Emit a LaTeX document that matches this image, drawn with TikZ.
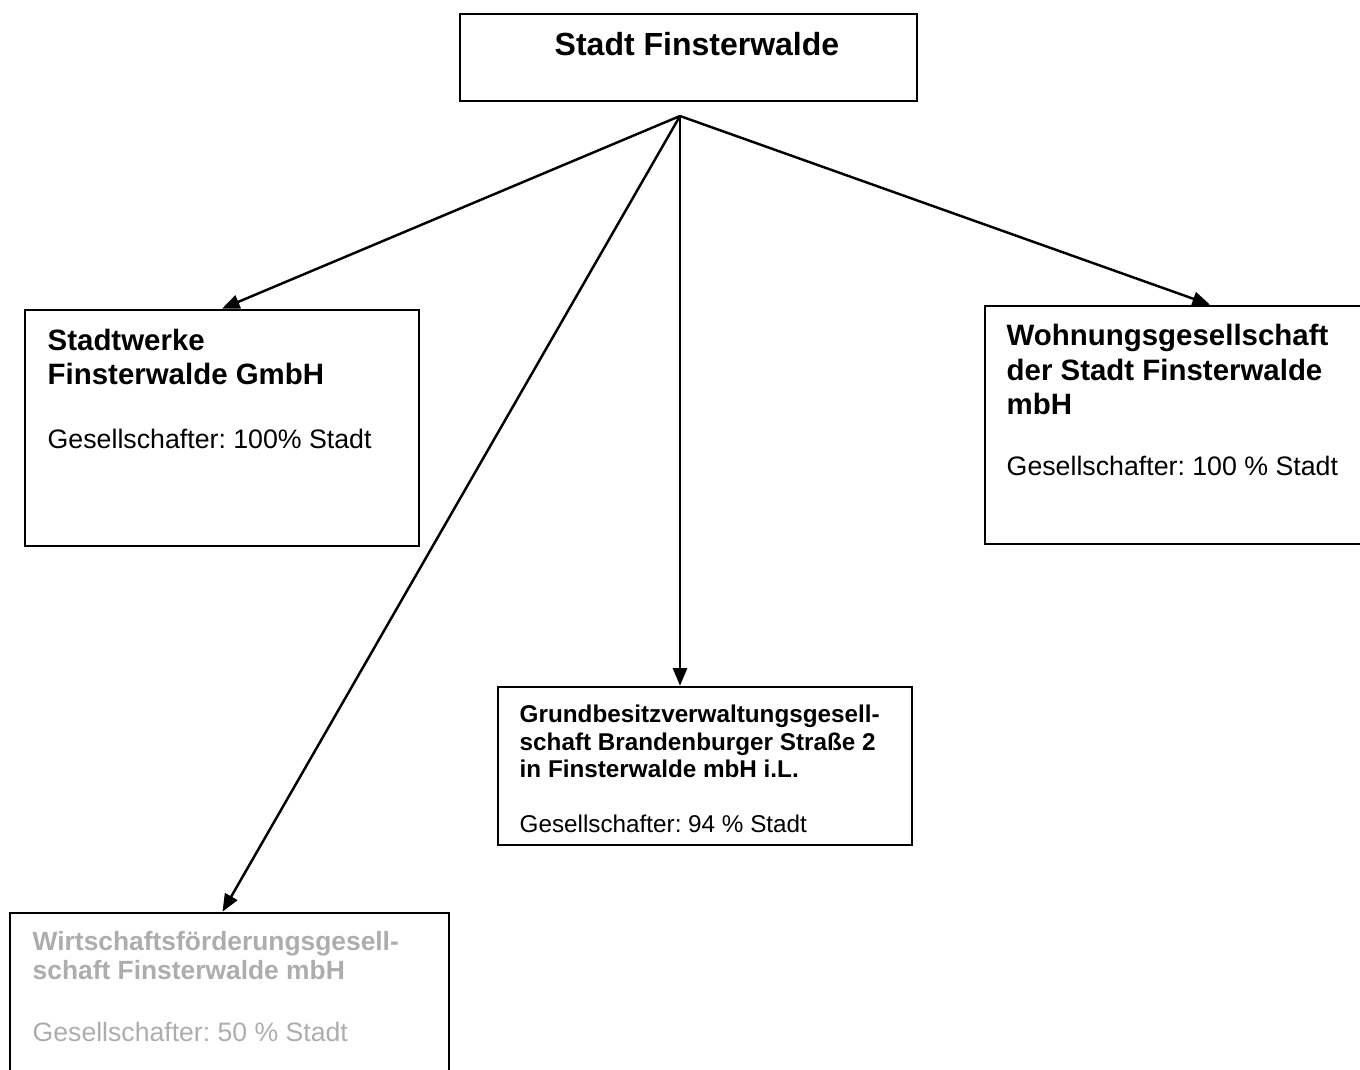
\documentclass[tikz,border=0pt]{standalone}
\usepackage{fontspec}
\setmainfont{Liberation Sans}
\usetikzlibrary{arrows.meta}
\definecolor{blass}{gray}{0.68}
\frenchspacing
\tikzset{
  firma/.style={draw,line width=0.7pt,inner sep=0pt},
  kopf/.style={anchor=base west,inner sep=0pt,align=left},
  anteil/.style={anchor=base west,inner sep=0pt},
  pfeil/.style={line width=0.7pt,-{Triangle[length=5pt,width=4pt]}},
}
\begin{document}
\begin{tikzpicture}[x=0.01cm,y=-0.01cm]
  \clip (0,0) rectangle (1360,1069);

  % Stadt
  \node[firma,minimum width=4.57cm,minimum height=0.87cm] (stadt) at (688.5,57.5) {};
  \node[anchor=base,inner sep=0pt,font=\fontsize{9.1}{11}\selectfont\bfseries] (stadtname) at (697,55.5) {Stadt Finsterwalde};
  \coordinate (fan) at (680,116);

  % Stadtwerke (Basis = letzte Zeile)
  \node[firma,minimum width=3.94cm,minimum height=2.36cm] (werke) at (222,428) {};
  \node[kopf,font=\fontsize{8.37}{9.67}\selectfont\bfseries] (werkename) at (47,384.5) {Stadtwerke\\Finsterwalde GmbH};
  \node[anteil,font=\fontsize{7.6}{9}\selectfont] (werkeanteil) at (47,448.5) {Gesellschafter: 100\% Stadt};

  % Wohnungsgesellschaft
  \node[firma,minimum width=3.8cm,minimum height=2.38cm] (wohn) at (1175,425) {};
  \node[kopf,font=\fontsize{8.37}{9.67}\selectfont\bfseries] (wohnname) at (1006,414) {Wohnungsgesellschaft\\der Stadt Finsterwalde\\mbH};
  \node[anteil,font=\fontsize{7.6}{9}\selectfont] (wohnanteil) at (1006,475.5) {Gesellschafter: 100 \% Stadt};

  % Grundbesitz
  \node[firma,minimum width=4.14cm,minimum height=1.58cm] (grund) at (705,766) {};
  \node[kopf,font=\fontsize{6.9}{7.8}\selectfont\bfseries] (grundname) at (519,777.7) {Grundbesitzverwaltungsgesell-\\schaft Brandenburger Straße 2\\in Finsterwalde mbH i.L.};
  \node[anteil,font=\fontsize{6.9}{8}\selectfont] (grundanteil) at (519,832) {Gesellschafter: 94 \% Stadt};

  % Wirtschaftsfoerderung
  \node[firma,minimum width=4.39cm,minimum height=1.72cm] (wirt) at (229.5,999) {};
  \node[kopf,blass,font=\fontsize{7.5}{8.25}\selectfont\bfseries] (wirtname) at (32,979.5) {Wirtschaftsförderungsgesell-\\schaft Finsterwalde mbH};
  \node[anteil,blass,font=\fontsize{7.57}{9}\selectfont] (wirtanteil) at (32,1041.5) {Gesellschafter: 50 \% Stadt};

  % Pfeile
  \draw[pfeil] (fan) -- (werke.north);
  \draw[pfeil] (fan) -- ([xshift=0.35cm]wohn.north);
  \draw[pfeil] (fan) -- (fan |- grund.north);
  \draw[pfeil] (fan) -- ([xshift=-0.07cm]wirt.north);
\end{tikzpicture}
\end{document}
